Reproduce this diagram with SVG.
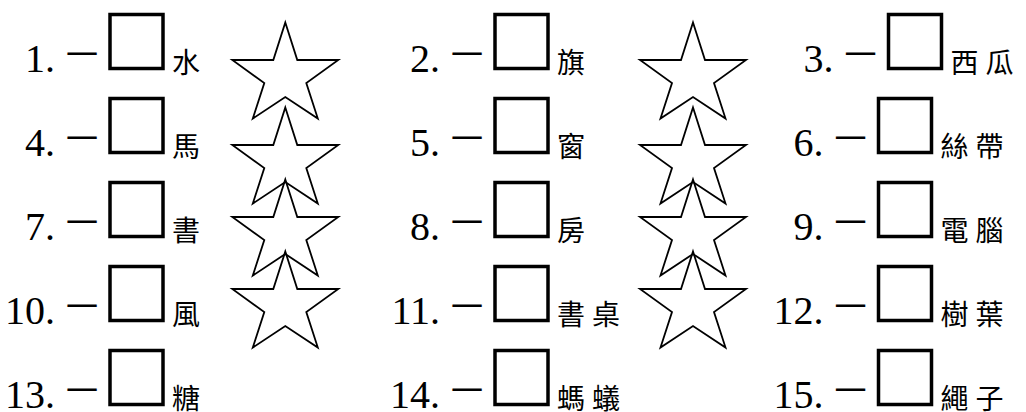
<svg xmlns="http://www.w3.org/2000/svg" xmlns:xlink="http://www.w3.org/1999/xlink" width="1026" height="412" viewBox="0 0 1026 412">
<style>
.num{font-family:"Liberation Serif","Times New Roman",serif;font-size:40px;fill:#000;text-anchor:end}
.dash{font-family:"Noto Sans CJK TC","Noto Sans CJK SC",sans-serif;font-size:32px;fill:#000}
.word{font-family:"Noto Sans CJK TC","Noto Sans CJK SC",sans-serif;font-size:28px;fill:#000;letter-spacing:7px}
.box{fill:none;stroke:#000;stroke-width:3.5}
.star{fill:none;stroke:#000;stroke-width:1.8;stroke-linejoin:miter}
</style>
<defs>
<path id="star" d="M0,0 L12,37.5 L53,37.5 L21,60.5 L32.5,96 L0,74.5 L-32.5,96 L-21,60.5 L-53,37.5 L-12,37.5 Z"/>
<g id="item">
<rect class="box" x="110" y="14.5" width="53" height="54"/>
</g>
</defs>
<rect width="1026" height="412" fill="#fff"/>
<g id="stars">
<use href="#star" class="star" transform="translate(285.3,22.5)"/>
<use href="#star" class="star" transform="translate(285.3,107.5)"/>
<use href="#star" class="star" transform="translate(285.3,179.5)"/>
<use href="#star" class="star" transform="translate(285.3,251.5)"/>
<use href="#star" class="star" transform="translate(693,22.5)"/>
<use href="#star" class="star" transform="translate(693,107.5)"/>
<use href="#star" class="star" transform="translate(693,179.5)"/>
<use href="#star" class="star" transform="translate(693,251.5)"/>
</g>
<g id="q1" transform="translate(0,0)"><text class="num" x="55" y="71.5">1.</text><text class="dash" x="66" y="66">一</text><use href="#item"/><text class="word" x="172" y="72.5">水</text></g>
<g id="q2" transform="translate(385,0)"><text class="num" x="55" y="71.5">2.</text><text class="dash" x="66" y="66">一</text><use href="#item"/><text class="word" x="172" y="72.5">旗</text></g>
<g id="q3" transform="translate(778.5,0)"><text class="num" x="55" y="71.5">3.</text><text class="dash" x="66" y="66">一</text><use href="#item"/><text class="word" x="172" y="72.5">西瓜</text></g>
<g id="q4" transform="translate(0,84)"><text class="num" x="55" y="71.5">4.</text><text class="dash" x="66" y="66">一</text><use href="#item"/><text class="word" x="172" y="72.5">馬</text></g>
<g id="q5" transform="translate(385,84)"><text class="num" x="55" y="71.5">5.</text><text class="dash" x="66" y="66">一</text><use href="#item"/><text class="word" x="172" y="72.5">窗</text></g>
<g id="q6" transform="translate(768.5,84)"><text class="num" x="55" y="71.5">6.</text><text class="dash" x="66" y="66">一</text><use href="#item"/><text class="word" x="172" y="72.5">絲帶</text></g>
<g id="q7" transform="translate(0,168)"><text class="num" x="55" y="71.5">7.</text><text class="dash" x="66" y="66">一</text><use href="#item"/><text class="word" x="172" y="72.5">書</text></g>
<g id="q8" transform="translate(385,168)"><text class="num" x="55" y="71.5">8.</text><text class="dash" x="66" y="66">一</text><use href="#item"/><text class="word" x="172" y="72.5">房</text></g>
<g id="q9" transform="translate(768.5,168)"><text class="num" x="55" y="71.5">9.</text><text class="dash" x="66" y="66">一</text><use href="#item"/><text class="word" x="172" y="72.5">電腦</text></g>
<g id="q10" transform="translate(0,252)"><text class="num" x="55" y="71.5">10.</text><text class="dash" x="66" y="66">一</text><use href="#item"/><text class="word" x="172" y="72.5">風</text></g>
<g id="q11" transform="translate(385,252)"><text class="num" x="55" y="71.5">11.</text><text class="dash" x="66" y="66">一</text><use href="#item"/><text class="word" x="172" y="72.5">書桌</text></g>
<g id="q12" transform="translate(768.5,252)"><text class="num" x="55" y="71.5">12.</text><text class="dash" x="66" y="66">一</text><use href="#item"/><text class="word" x="172" y="72.5">樹葉</text></g>
<g id="q13" transform="translate(0,336)"><text class="num" x="55" y="71.5">13.</text><text class="dash" x="66" y="66">一</text><use href="#item"/><text class="word" x="172" y="72.5">糖</text></g>
<g id="q14" transform="translate(385,336)"><text class="num" x="55" y="71.5">14.</text><text class="dash" x="66" y="66">一</text><use href="#item"/><text class="word" x="172" y="72.5">螞蟻</text></g>
<g id="q15" transform="translate(768.5,336)"><text class="num" x="55" y="71.5">15.</text><text class="dash" x="66" y="66">一</text><use href="#item"/><text class="word" x="172" y="72.5">繩子</text></g>
</svg>
